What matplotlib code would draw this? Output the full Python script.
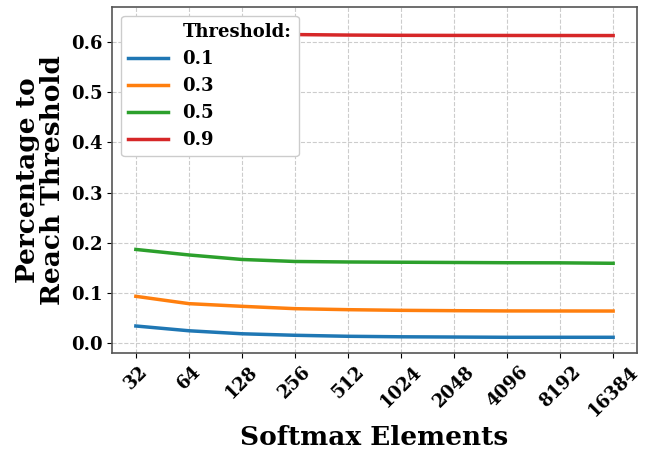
import matplotlib
matplotlib.use("Agg")
import matplotlib.pyplot as plt

elements = ["32", "64", "128", "256", "512", "1024", "2048", "4096", "8192", "16384"]
thresholds = ["0.1", "0.3", "0.5", "0.9"]
t01 = [0.0345, 0.025, 0.019, 0.016, 0.014, 0.013, 0.0125, 0.012, 0.012, 0.012]
t03 = [0.0936, 0.079, 0.0737, 0.069, 0.067, 0.0657, 0.065, 0.0645, 0.0644, 0.0643]
t05 = [0.187, 0.176, 0.167, 0.163, 0.162, 0.1615, 0.161, 0.1605, 0.1603, 0.1594]
t09 = [0.639, 0.625, 0.618, 0.615, 0.614, 0.6135, 0.6133, 0.6132, 0.6131, 0.613]
series = [t01, t03, t05, t09]
colors = ["#1f77b4", "#ff7f0e", "#2ca02c", "#d62728"]

plt.rcParams['font.family'] = ['DejaVu Serif']
plt.rcParams['font.weight'] = 'bold'

fig = plt.figure(figsize=(6.58, 4.51), dpi=100)
ax = fig.add_axes([112/658, 1-352.7/451, (637-112)/658, (352.7-6.7)/451])

x = list(range(len(elements)))
ax.plot([], [], color='none', label="Threshold:")
for lab, ys, c in zip(thresholds, series, colors):
    ax.plot(x, ys, color=c, linewidth=2.5, label=lab)

ax.set_ylim(-0.0187, 0.6705)
ax.set_xticks(x)
ax.set_xticklabels(elements, rotation=45, fontsize=13, fontweight='bold')
ax.set_yticks([0.0, 0.1, 0.2, 0.3, 0.4, 0.5, 0.6])
ax.set_yticklabels(["0.0", "0.1", "0.2", "0.3", "0.4", "0.5", "0.6"], fontsize=13, fontweight='bold')
ax.grid(True, linestyle='--', color='#cccccc', linewidth=0.8)
ax.set_axisbelow(True)
for s in ax.spines.values():
    s.set_color('#555555')
    s.set_linewidth(1.2)

ax.set_xlabel("Softmax Elements", fontsize=19, fontweight='bold')
ax.set_ylabel("Percentage to\nReach Threshold", fontsize=19, fontweight='bold', linespacing=1.0)

leg = ax.legend(loc='upper left', prop={'size': 13, 'weight': 'bold'},
                handlelength=2.2, framealpha=1.0, borderaxespad=0.5)

fig.savefig("out.png", dpi=100)
